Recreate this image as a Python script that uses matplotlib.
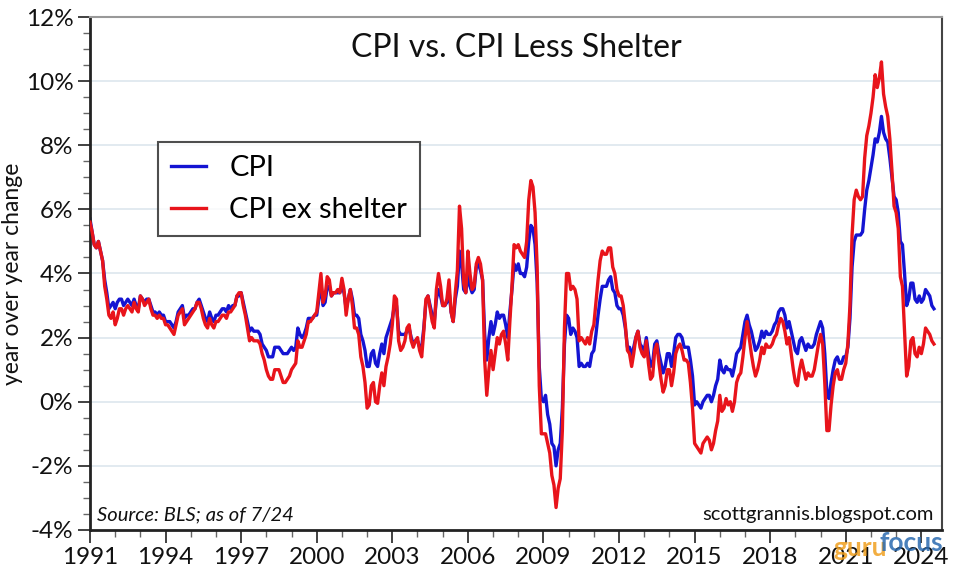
import numpy as np
import matplotlib
matplotlib.use("Agg")
import matplotlib.pyplot as plt
from matplotlib.ticker import MultipleLocator, FuncFormatter

plt.rcParams['font.family'] = ['Lato', 'DejaVu Sans']

start_year = 1991
years = list(range(1991, 2025))

cpi = {
    1991: [5.7, 5.3, 4.9, 4.8, 5.0, 4.7, 4.4, 3.8, 3.4, 2.9, 3.0, 3.1],
    1992: [2.9, 3.1, 3.2, 3.2, 3.0, 3.1, 3.2, 3.1, 3.0, 3.2, 3.0, 2.9],
    1993: [3.3, 3.2, 3.1, 3.2, 3.2, 3.0, 2.8, 2.8, 2.7, 2.8, 2.7, 2.7],
    1994: [2.5, 2.5, 2.5, 2.4, 2.3, 2.5, 2.8, 2.9, 3.0, 2.6, 2.7, 2.7],
    1995: [2.8, 2.9, 2.9, 3.1, 3.2, 3.0, 2.8, 2.6, 2.5, 2.8, 2.6, 2.5],
    1996: [2.7, 2.7, 2.8, 2.9, 2.9, 2.8, 3.0, 2.9, 3.0, 3.0, 3.3, 3.3],
    1997: [3.4, 3.1, 2.8, 2.5, 2.2, 2.3, 2.2, 2.2, 2.2, 2.1, 1.8, 1.7],
    1998: [1.6, 1.4, 1.4, 1.4, 1.7, 1.7, 1.7, 1.6, 1.5, 1.5, 1.5, 1.6],
    1999: [1.7, 1.6, 1.7, 2.3, 2.1, 2.0, 2.1, 2.3, 2.6, 2.6, 2.6, 2.7],
    2000: [2.7, 3.2, 3.7, 3.0, 3.1, 3.6, 3.6, 3.3, 3.4, 3.4, 3.4, 3.4],
    2001: [3.6, 3.4, 2.9, 3.2, 3.5, 3.2, 2.7, 2.7, 2.6, 2.1, 1.9, 1.6],
    2002: [1.1, 1.1, 1.5, 1.6, 1.2, 1.1, 1.5, 1.8, 1.5, 2.0, 2.2, 2.4],
    2003: [2.6, 3.0, 3.0, 2.2, 2.1, 2.1, 2.1, 2.2, 2.3, 2.0, 1.8, 1.9],
    2004: [1.9, 1.7, 1.7, 2.3, 3.1, 3.3, 3.0, 2.7, 2.5, 3.2, 3.5, 3.3],
    2005: [3.0, 3.0, 3.1, 3.5, 2.8, 2.5, 3.2, 3.6, 4.7, 4.3, 3.5, 3.4],
    2006: [4.0, 3.6, 3.4, 3.5, 4.2, 4.3, 4.1, 3.8, 2.1, 1.3, 2.0, 2.5],
    2007: [2.1, 2.4, 2.8, 2.6, 2.7, 2.7, 2.4, 2.0, 2.8, 3.5, 4.3, 4.1],
    2008: [4.3, 4.0, 4.0, 3.9, 4.2, 5.0, 5.5, 5.4, 4.9, 3.7, 1.1, 0.1],
    2009: [0.0, 0.2, -0.4, -0.7, -1.3, -1.4, -2.0, -1.5, -1.3, -0.2, 1.8, 2.7],
    2010: [2.6, 2.1, 2.3, 2.2, 2.0, 1.1, 1.2, 1.1, 1.1, 1.2, 1.1, 1.5],
    2011: [1.6, 2.1, 2.7, 3.2, 3.6, 3.6, 3.6, 3.8, 3.9, 3.5, 3.4, 3.0],
    2012: [2.9, 2.9, 2.7, 2.3, 1.7, 1.7, 1.4, 1.7, 2.0, 2.2, 1.8, 1.7],
    2013: [1.6, 2.0, 1.5, 1.1, 1.2, 1.8, 1.9, 1.5, 1.2, 0.9, 1.1, 1.5],
    2014: [1.5, 1.1, 1.5, 2.0, 2.1, 2.1, 2.0, 1.7, 1.7, 1.7, 1.3, 0.8],
    2015: [-0.1, 0.0, -0.1, -0.2, 0.0, 0.1, 0.2, 0.2, 0.0, 0.2, 0.5, 0.7],
    2016: [1.3, 1.0, 0.9, 1.1, 1.0, 1.0, 0.8, 1.1, 1.5, 1.6, 1.7, 2.1],
    2017: [2.5, 2.7, 2.4, 2.2, 1.9, 1.6, 1.7, 1.9, 2.2, 2.0, 2.2, 2.1],
    2018: [2.1, 2.2, 2.4, 2.5, 2.8, 2.9, 2.9, 2.7, 2.3, 2.5, 2.2, 1.9],
    2019: [1.6, 1.5, 1.9, 2.0, 1.8, 1.6, 1.8, 1.7, 1.7, 1.8, 2.1, 2.3],
    2020: [2.5, 2.3, 1.5, 0.3, 0.1, 0.6, 1.0, 1.3, 1.4, 1.2, 1.2, 1.4],
    2021: [1.4, 1.7, 2.6, 4.2, 5.0, 5.2, 5.2, 5.2, 5.3, 6.0, 6.6, 6.9],
    2022: [7.3, 7.7, 8.2, 8.1, 8.4, 8.9, 8.4, 8.2, 8.1, 7.6, 7.0, 6.4],
    2023: [6.3, 5.9, 5.0, 4.9, 4.0, 3.0, 3.2, 3.7, 3.7, 3.2, 3.1, 3.3],
    2024: [3.1, 3.2, 3.5, 3.4, 3.3, 3.0, 2.9],
}

cpi_ex_shelter = {
    1991: [5.6, 5.3, 4.9, 4.8, 5.0, 4.7, 4.4, 3.6, 3.2, 2.7, 2.6, 2.8],
    1992: [2.4, 2.6, 2.9, 2.9, 2.7, 2.9, 3.0, 2.9, 2.8, 3.1, 2.9, 2.8],
    1993: [3.3, 3.2, 3.0, 3.1, 3.2, 2.9, 2.7, 2.7, 2.6, 2.7, 2.6, 2.6],
    1994: [2.4, 2.4, 2.3, 2.2, 2.1, 2.4, 2.7, 2.8, 2.9, 2.4, 2.5, 2.6],
    1995: [2.7, 2.8, 2.9, 3.1, 3.1, 2.9, 2.6, 2.4, 2.3, 2.6, 2.4, 2.3],
    1996: [2.5, 2.5, 2.6, 2.7, 2.7, 2.6, 2.8, 2.8, 2.9, 3.0, 3.3, 3.4],
    1997: [3.4, 3.0, 2.7, 2.3, 1.9, 2.0, 1.9, 1.9, 1.9, 1.8, 1.5, 1.3],
    1998: [1.0, 0.8, 0.7, 0.7, 1.0, 1.0, 1.0, 0.8, 0.6, 0.6, 0.7, 0.8],
    1999: [1.0, 1.1, 1.2, 1.9, 1.7, 1.7, 1.9, 2.1, 2.5, 2.5, 2.6, 2.7],
    2000: [2.8, 3.4, 4.0, 3.1, 3.3, 3.9, 3.8, 3.3, 3.4, 3.4, 3.5, 3.4],
    2001: [3.85, 3.5, 2.7, 3.2, 3.5, 3.0, 2.3, 2.3, 2.1, 1.4, 1.1, 0.6],
    2002: [-0.2, -0.1, 0.5, 0.6, 0.0, -0.05, 0.5, 0.9, 0.5, 1.1, 1.4, 1.8],
    2003: [2.4, 3.3, 3.2, 1.9, 1.6, 1.7, 1.9, 2.3, 2.4, 1.9, 1.7, 1.9],
    2004: [2.0, 1.6, 1.4, 2.2, 3.2, 3.3, 2.9, 2.5, 2.3, 3.5, 4.0, 3.6],
    2005: [3.0, 3.0, 3.2, 3.8, 2.8, 2.5, 3.4, 4.1, 6.1, 5.4, 3.7, 3.4],
    2006: [4.7, 4.0, 3.5, 3.6, 4.3, 4.5, 4.3, 3.8, 1.3, 0.2, 1.0, 1.6],
    2007: [1.0, 1.5, 2.0, 1.8, 2.1, 2.2, 1.8, 1.3, 2.5, 3.6, 4.9, 4.8],
    2008: [4.9, 4.7, 4.6, 4.5, 5.0, 6.3, 6.9, 6.7, 5.9, 4.2, 0.5, -1.0],
    2009: [-1.0, -1.0, -1.3, -1.6, -2.3, -2.6, -3.3, -2.7, -2.4, -0.9, 2.3, 4.0],
    2010: [4.0, 3.5, 3.6, 3.5, 3.2, 1.9, 2.0, 1.9, 1.8, 2.0, 1.8, 2.2],
    2011: [2.4, 3.1, 3.8, 4.4, 4.7, 4.6, 4.6, 4.8, 4.8, 4.2, 4.0, 3.5],
    2012: [3.3, 3.3, 3.0, 2.4, 1.6, 1.5, 1.1, 1.5, 2.0, 2.2, 1.7, 1.5],
    2013: [1.4, 1.9, 1.2, 0.7, 0.8, 1.6, 1.8, 1.2, 0.7, 0.3, 0.5, 1.0],
    2014: [1.0, 0.5, 0.9, 1.5, 1.7, 1.8, 1.6, 1.3, 1.3, 1.2, 0.6, -0.2],
    2015: [-1.3, -1.4, -1.5, -1.6, -1.3, -1.2, -1.1, -1.2, -1.5, -1.3, -0.9, -0.6],
    2016: [0.2, -0.3, -0.2, 0.1, -0.1, 0.0, -0.3, 0.0, 0.6, 0.8, 0.9, 1.4],
    2017: [2.0, 2.5, 2.0, 1.5, 1.1, 0.8, 1.0, 1.3, 1.7, 1.5, 1.8, 1.7],
    2018: [1.7, 1.8, 2.0, 2.1, 2.4, 2.6, 2.5, 2.2, 1.8, 2.0, 1.5, 1.0],
    2019: [0.6, 0.5, 1.0, 1.3, 1.0, 0.7, 0.9, 0.8, 0.8, 1.0, 1.4, 1.8],
    2020: [2.1, 1.8, 0.6, -0.9, -0.9, -0.1, 0.5, 0.9, 1.0, 0.7, 0.7, 1.0],
    2021: [1.2, 1.8, 3.0, 5.2, 6.3, 6.6, 6.4, 6.3, 6.4, 7.6, 8.3, 8.6],
    2022: [9.0, 9.5, 10.2, 9.8, 10.1, 10.6, 9.6, 9.2, 8.9, 8.2, 7.2, 6.1],
    2023: [5.9, 5.4, 3.9, 3.6, 2.2, 0.8, 1.1, 1.9, 2.0, 1.5, 1.4, 1.7],
    2024: [1.5, 1.8, 2.3, 2.2, 2.1, 1.9, 1.8],
}

x_ticks = list(range(1991, 2025, 3))
y_ticks = list(range(-4, 13, 2))

def flatten(d):
    vals = []
    for y in years:
        vals.extend(d[y])
    return np.array(vals)

cpi_vals = flatten(cpi)
ex_vals = flatten(cpi_ex_shelter)
t = start_year + np.arange(len(cpi_vals)) / 12.0

fig = plt.figure(figsize=(9.6, 5.77), dpi=100)
ax = fig.add_axes([0.09375, 0.0815, 0.8875, 0.889])

for yv in y_ticks:
    if -4 < yv < 12:
        ax.axhline(yv, color='#dfe8ef', lw=1.3, zorder=0)

ax.plot(t, cpi_vals, color='#1414d2', lw=2.4, zorder=2)
ax.plot(t, ex_vals, color='#e8141b', lw=2.4, zorder=3)

ax.set_xlim(1991, 2024.82)
ax.set_ylim(-4, 12)
ax.set_xticks(x_ticks)
ax.set_xticklabels([str(v) for v in x_ticks])
ax.xaxis.set_minor_locator(MultipleLocator(1))
ax.set_yticks(y_ticks)
ax.yaxis.set_major_formatter(FuncFormatter(lambda v, p: f"{int(v)}%"))
ax.yaxis.set_minor_locator(MultipleLocator(0.5))

ax.tick_params(axis='both', which='major', length=9, width=1.3, color='#333333',
               labelsize=17.5, labelcolor='#111111', direction='out')
ax.tick_params(axis='both', which='minor', length=5, width=1.0, color='#666666', direction='out')
ax.tick_params(axis='x', pad=3, labelsize=17.5)
ax.tick_params(axis='y', pad=3)

for s in ['left', 'bottom']:
    ax.spines[s].set_linewidth(2.0)
    ax.spines[s].set_color('#222222')
ax.spines['top'].set_linewidth(1.5)
ax.spines['top'].set_color('#999999')
ax.spines['right'].set_linewidth(1.5)
ax.spines['right'].set_color('#444444')

ax.set_ylabel('year over year change', fontsize=16.5, labelpad=2, color='#111111')

ax.text(0.5, 0.94, 'CPI vs. CPI Less Shelter', transform=ax.transAxes,
        ha='center', va='center', fontsize=23, color='#111111')

h_cpi, = ax.plot([], [], color='#1414d2', lw=2.4)
h_ex, = ax.plot([], [], color='#e8141b', lw=2.4)
leg = ax.legend([h_cpi, h_ex], ['CPI', 'CPI ex shelter'], loc='upper left',
                bbox_to_anchor=(0.0798, 0.756), borderaxespad=0, fontsize=21,
                frameon=True, fancybox=False, edgecolor='#222222',
                handlelength=1.2, handletextpad=0.8, borderpad=0.45,
                labelspacing=0.55)
leg.get_frame().set_linewidth(1.5)

ax.text(0.008, 0.03, 'Source: BLS; as of 7/24', transform=ax.transAxes,
        ha='left', va='center', fontsize=14.5, style='italic', color='#111111')
ax.text(0.99, 0.03, 'scottgrannis.blogspot.com', transform=ax.transAxes,
        ha='right', va='center', fontsize=14.5, color='#111111')

fig.text(833 / 960, 1 - 548 / 577, 'guru', fontsize=19, color='#f0a020', alpha=0.85,
         ha='left', va='center', fontweight='bold')
fig.text(880 / 960, 1 - 543 / 577, 'focus', fontsize=19, color='#2a6ab0', alpha=0.85,
         ha='left', va='center', fontweight='bold')

fig.savefig('out.png', dpi=100)
